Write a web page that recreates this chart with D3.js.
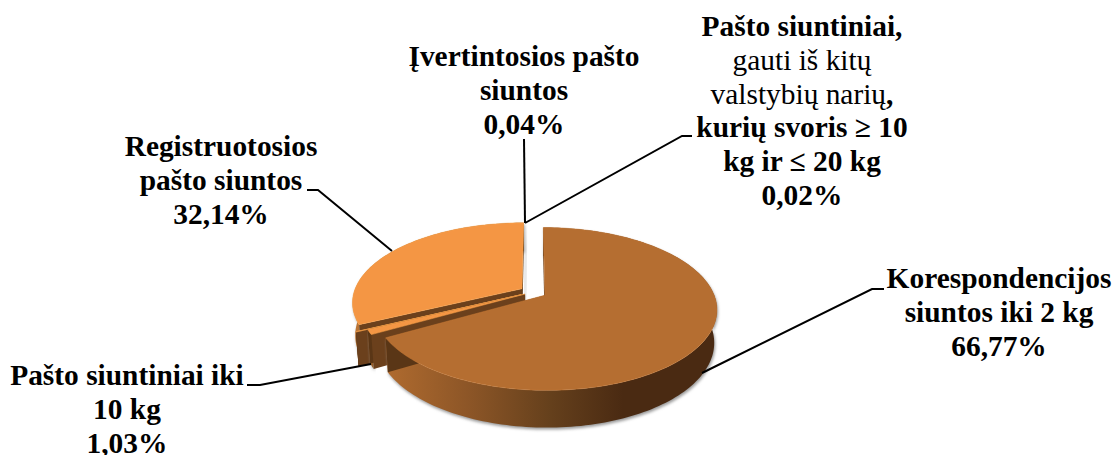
<!DOCTYPE html>
<html>
<head>
<meta charset="utf-8">
<script src="https://cdn.jsdelivr.net/npm/d3@7"></script>
<style>
  html, body { margin: 0; background: #fff; }
  text { font-family: "Liberation Serif", serif; font-size: 29.4px; font-weight: bold; fill: #000; }
</style>
</head>
<body>
<svg id="chart" width="1117" height="455"></svg>
<script>
// values clockwise from 12 o'clock
const categories = [
    "Korespondencijos siuntos iki 2 kg",
    "Pašto siuntiniai iki 10 kg",
    "Pašto siuntiniai, gauti iš kitų valstybių narių, kurių svoris ≥ 10 kg ir ≤ 20 kg",
    "Įvertintosios pašto siuntos",
    "Registruotosios pašto siuntos"
];
const shares = [66.77, 1.03, 0.02, 0.04, 32.14];
const topColors = ["#b56e31", "#f49644", "#f49644", "#f49644", "#f49644"];

// label lines, [text, bold]
const labelLines = [
    [["Korespondencijos", 1], ["siuntos iki 2 kg", 1], ["66,77%", 1]],
    [["Pašto siuntiniai iki", 1], ["10 kg", 1], ["1,03%", 1]],
    [["Pašto siuntiniai,", 1], ["gauti iš kitų", 0], ["valstybių narių,", 0], ["kurių svoris ≥ 10", 1], ["kg ir ≤ 20 kg", 1], ["0,02%", 1]],
    [["Įvertintosios pašto", 1], ["siuntos", 1], ["0,04%", 1]],
    [["Registruotosios", 1], ["pašto siuntos", 1], ["32,14%", 1]]
];
const labelX = [999, 127, 802, 524, 221];
const labelY = [288, 385, 36, 66, 156];
const leaders = [
    [[884, 289], [872, 289], [702, 373]],
    [[247, 385], [260, 385], [371, 364]],
    [[692, 136], [682, 136], [525, 223]],
    [[524, 139], [525, 223]],
    [[307, 190], [318, 190], [392, 251]]
];

const svg = d3.select("#chart");
const defs = svg.append("defs");

// perspective of the pie plane, fitted to the picture
const cx = 533.3, cy = 292, R = 168, A = 78, K = 0.168, depth = 32, shrink = 0.985;
const explode = [0.08, 0.055, 0.08, 0.08, 0.08];
const radius = [1, 0.96, 1, 1, 1];

function project(x, y, low) {
    const w = 1 + K * y;
    const s = low ? shrink : 1;
    return [cx + s * R * x / w, cy - s * A * y / w + (low ? depth : 0) / w];
}

const line = d3.line();

const slices = d3.pie().sort(null).value(function (d) { return d; })(shares);

function rimPoints(d, i) {
    const mid = (d.startAngle + d.endAngle) / 2;
    const ox = explode[i] * Math.sin(mid), oy = explode[i] * Math.cos(mid);
    const n = Math.max(2, Math.ceil((d.endAngle - d.startAngle) * 40));
    const pts = d3.range(n + 1).map(function (j) {
        const a = d.startAngle + (d.endAngle - d.startAngle) * j / n;
        return [ox + radius[i] * Math.sin(a), oy + radius[i] * Math.cos(a)];
    });
    return { apex: [ox, oy], pts: pts };
}

const up = function (p) { return project(p[0], p[1], false); };
const lo = function (p) { return project(p[0], p[1], true); };

function quad(a, b) {
    return line([up(a), up(b), lo(b), lo(a)]) + "Z";
}

const grad = defs.append("linearGradient").attr("id", "wallMain")
    .attr("gradientUnits", "userSpaceOnUse")
    .attr("x1", 385).attr("x2", 716).attr("y1", 0).attr("y2", 0);
[[0, "#b06b2f"], [0.25, "#8d5627"], [0.5, "#65401c"], [0.72, "#4a2a12"], [1, "#4a2a12"]].forEach(function (s) {
    grad.append("stop").attr("offset", s[0]).attr("stop-color", s[1]);
});
const gradO = defs.append("linearGradient").attr("id", "wallSide")
    .attr("gradientUnits", "userSpaceOnUse")
    .attr("x1", 353).attr("x2", 375).attr("y1", 0).attr("y2", 0);
gradO.append("stop").attr("offset", 0).attr("stop-color", "#c47a38");
gradO.append("stop").attr("offset", 1).attr("stop-color", "#8f5a28");

const blur = defs.append("filter").attr("id", "soft")
    .attr("x", "-20%").attr("y", "-20%").attr("width", "140%").attr("height", "140%");
blur.append("feGaussianBlur").attr("stdDeviation", 1.6);

const g = svg.append("g");

// painter's order: back slice first, main slice last
[4, 3, 2, 1, 0].forEach(function (i) {
    const r = rimPoints(slices[i], i);
    const first = r.pts[0], last = r.pts[r.pts.length - 1];
    const wall = line(r.pts.map(up).concat(r.pts.map(lo).reverse())) + "Z";

    // soft shadow under the wall
    g.append("path").attr("d", wall).attr("fill", "#999").attr("filter", "url(#soft)")
        .attr("transform", "translate(1,2)");
    if (i === 4) {
        g.append("path").attr("d", quad(r.apex, last)).attr("fill", "#999").attr("filter", "url(#soft)")
            .attr("transform", "translate(2.5,0)");
    }
    g.append("path").attr("d", wall).attr("fill", i === 0 ? "url(#wallMain)" : "url(#wallSide)");
    g.append("path").attr("d", quad(r.apex, last)).attr("fill", "#5a3616");
    g.append("path").attr("d", quad(r.apex, first)).attr("fill", "#6b401c");
    g.append("path").attr("d", line([up(r.apex)].concat(r.pts.map(up))) + "Z")
        .attr("fill", topColors[i])
        .attr("stroke", d3.color(topColors[i]).brighter(0.3)).attr("stroke-width", 0.5);
});

// leader lines
svg.append("g").selectAll("path").data(leaders).enter().append("path")
    .attr("d", function (d) { return line(d); })
    .attr("fill", "none").attr("stroke", "#000").attr("stroke-width", 2);

// labels
labelLines.forEach(function (lines, i) {
    const t = svg.append("text").attr("text-anchor", "middle");
    lines.forEach(function (l, j) {
        const s = t.append("tspan").attr("x", labelX[i]).attr("y", labelY[i] + j * 33.8);
        if (l[1]) {
            s.text(l[0]);
        } else if (l[0].endsWith(",")) {
            s.append("tspan").attr("font-weight", "normal").text(l[0].slice(0, -1));
            s.append("tspan").text(",");
        } else {
            s.attr("font-weight", "normal").text(l[0]);
        }
    });
});
</script>
</body>
</html>
